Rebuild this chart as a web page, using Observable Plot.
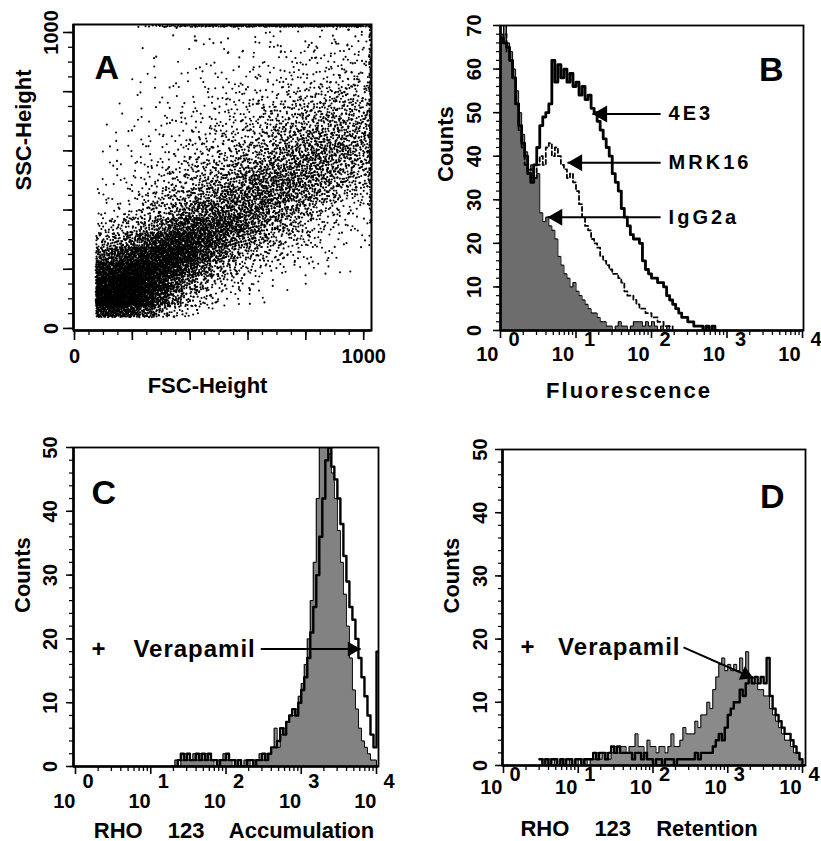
<!DOCTYPE html>
<html>
<head>
<meta charset="utf-8">
<script src="https://cdn.jsdelivr.net/npm/d3@7"></script>
<script src="https://cdn.jsdelivr.net/npm/@observablehq/plot@0.6"></script>
<style>
  html, body { margin: 0; padding: 0; background: #ffffff; }
  #figure { position: relative; width: 821px; height: 841px; overflow: hidden; background: #fff; }
  #figure > div { position: absolute; }
</style>
</head>
<body>
<div id="figure">
  <div id="panelA" style="left:0px;top:0px;width:410px;height:400px"></div>
  <div id="panelB" style="left:410px;top:0px;width:411px;height:400px"></div>
  <div id="panelC" style="left:0px;top:400px;width:410px;height:441px"></div>
  <div id="panelD" style="left:410px;top:400px;width:411px;height:441px"></div>
</div>
<script>
// ================= DATA =================
// ---- Panel A: FSC / SSC dot plot, event counts per 50-channel cell ----
const fscBinCenters = [75,125,175,225,275,325,375,425,475,525,575,625,675,725,775,825,875,925,975,1025];
const sscBinCenters = [1025,975,925,875,825,775,725,675,625,575,525,475,425,375,325,275,225,175,125,75,25];
const scatterCounts = [
  [0,0,0,0,1,1,1,1,1,1,2,2,2,2,2,2,2,3,3,3],
  [0,0,0,0,1,1,1,1,2,2,2,2,3,3,3,4,4,5,5,5],
  [0,0,0,0,1,1,1,2,2,2,3,3,3,4,5,5,6,7,7,6],
  [0,0,0,1,1,1,2,2,2,3,3,4,4,5,6,7,8,9,9,8],
  [0,0,1,1,1,2,2,2,3,4,4,5,6,7,8,9,11,12,12,10],
  [0,0,1,1,2,3,4,4,5,6,8,9,10,13,16,18,20,22,21,17],
  [0,1,1,1,3,4,4,5,6,8,10,12,14,18,21,25,27,30,29,22],
  [1,1,1,3,3,4,5,6,9,10,13,16,20,25,29,34,36,36,34,26],
  [1,1,3,3,4,5,6,9,12,14,18,22,27,34,39,44,47,44,39,29],
  [1,1,3,4,5,6,9,13,17,21,26,32,39,47,52,55,52,47,39,26],
  [1,3,3,4,6,10,14,20,26,32,39,47,55,60,60,57,49,39,29,20],
  [3,3,4,6,10,16,22,30,39,47,55,62,68,65,57,47,36,26,18,13],
  [3,4,6,10,16,23,34,44,55,65,73,73,65,55,42,31,21,13,9,6],
  [5,7,12,20,30,45,60,72,80,83,75,62,49,36,26,17,10,6,4,4],
  [12,18,26,40,60,88,115,130,120,95,68,50,38,28,19,12,8,5,4,3],
  [35,50,70,100,135,165,170,140,100,65,40,28,19,13,9,6,4,3,1,1],
  [90,120,150,180,200,190,150,100,60,36,23,15,9,6,5,4,3,1,1,0],
  [170,210,230,230,200,140,85,45,26,17,10,7,4,3,1,1,0,0,0,0],
  [250,270,270,240,170,95,48,24,13,7,4,2,1,0,0,0,0,0,0,0],
  [230,260,250,200,110,52,22,10,7,3,1,0,0,0,0,0,0,0,0,0],
  [0,0,0,0,0,0,0,0,0,0,0,0,0,0,0,0,0,0,0,0]
];
// events piled up on the top SSC channel (per FSC bin) and on the top FSC channel (per SSC bin)
const sscSaturatedCounts = [0,0,0,2,5,8,10,12,14,14,15,15,16,16,16,16,16,16,16,10];
const fscSaturatedCounts = [6,8,8,8,9,9,10,10,10,10,8,6,5,3,1,0,0,0,0,0,0];
const saturationChannel = 1022;
const fscThreshold = 73;
const sscFloor = 38;
const scatterTicksMajor = [0,200,400,600,800,1000];
const scatterTicksMinor = d3.range(0, 1001, 50);
const scatterTickLabels = [0, 1000];

// ---- Histogram panels: counts per channel, 0.04 decade channels ----
const binWidthDecades = 0.04;
const decadeTicks = [1, 10, 100, 1000, 10000];
const decadeExponents = ["0", "1", "2", "3", "4"];
const logMinorTicks = [1, 10, 100, 1000].flatMap(d => [2,3,4,5,6,7,8,9].map(m => m * d));

// Panel B (starts at 10^0)
const fluorStartExp = 0;
const igg2aCounts = [68,70,66,64,60,55,50,45,41,37,38,35,36,27,25,26,24,23,21,17,15,13,12,10,11,9,8,7,6,5,4,4,3,2,2,1,1,0,1,2,1,1,0,1,2,2,2,1,2,1,2,1,0,1,0,1,0];
const mrk16Counts = [66,68,64,62,58,52,46,42,38,36,37,35,38,40,38,42,43,40,42,40,38,37,35,36,34,32,29,26,24,23,21,20,19,17,16,15,14,13,13,12,11,9,8,8,7,6,5,5,4,4,3,3,2,2,1,1,1,0];
const e43Counts = [67,66,65,62,58,52,47,43,40,36,34,38,42,47,49,50,52,62,57,61,58,60,57,59,56,57,54,56,53,54,51,50,48,46,44,42,40,36,34,32,28,26,24,22,21,21,20,16,14,13,12,12,11,11,10,8,7,6,5,4,3,3,2,2,1,1,1,0,1,0,1,0];
const countsTicksB = [0,10,20,30,40,50,60,70];
const countsMinorB = d3.range(0, 71, 2);
const arrowsB = [
  {label: "4E3", tail: 132, head: 16.5, counts: 49.7},
  {label: "MRK16", tail: 132, head: 7.7, counts: 38.5},
  {label: "IgG2a", tail: 132, head: 4.2, counts: 26}
];

// Panel C (starts at 10^1.28)
const accumStartExp = 1.28;
const accumControl = [0,1,0,1,2,1,1,2,1, 2,1,2,1,1,0,1,1,2, 1,1,0,1,0,0,1,1,0, 1,1,2,1,2,2,3,6,3, 5,6,7,8,8,9,11,13,16, 20,26,32,42,50,50,50,49,46, 42,37,32,27,22,17,12,9,6, 4,3,2,1,1,0];
const accumVerapamil = [0,0,1,2,1,2,1,1,2, 1,2,1,2,1,1,0,1,1, 2,1,1,0,1,0,0,1,1, 0,1,1,2,1,2,3,3,4, 6,5,7,8,9,8,10,12,14, 17,21,25,30,36,42,48,50,47, 45,42,38,33,29,25,23,20,17, 14,11,8,5,3,18];
// Panel D (starts at 10^0.48)
const retentStartExp = 0.48;
const retentControl = [0,1,0,1,0,1,0,1,1, 0,1,0,1,0,1,1,0,1, 1,2,1,2,2,1,2,3,2, 3,3,2,3,3,5,3,3,2, 4,3,3,2,3,3,2,3,5, 3,3,4,6,5,5,5,7,6, 8,8,10,9,12,14,16,17,15, 16,15,16,15,17,15,18,14,13, 13,12,12,11,11,9,8,7,6, 5,4,4,3,2,2,1,0];
const retentVerapamil = [1,0,1,0,1,1,0,1,0, 1,1,0,1,1,0,1,1,1, 2,1,2,2,1,2,3,2,3, 2,2,2,2,1,2,2,1,2, 1,1,0,1,1,0,1,1,1, 0,1,1,1,1,1,1,2,1, 2,2,2,2,3,4,5,4,6, 8,9,10,10,12,11,13,14,13, 14,13,14,13,17,11,9,8,7, 6,5,5,4,3,2,1,0];
const countsTicksCD = [0,10,20,30,40,50];
const countsMinorCD = d3.range(0, 51, 2);
const verapamilC = [{label: "Verapamil", plusAt: 2.02, tail: 290, tailCounts: 18.4, head: 6150, headCounts: 18.4}];
const verapamilD = [{label: "Verapamil", plusAt: 2.09, tail: 256, tailCounts: 18.7, head: 2210, headCounts: 13.8}];

// ================= HELPERS =================
const FONT_STYLE = "font-family:'Liberation Sans',Arial,Helvetica,sans-serif;font-weight:bold;background:transparent;overflow:visible;color:black;";

function histo(counts, startExp) {
  const pts = counts.map((c, i) => ({x: 10 ** (startExp + i * binWidthDecades), y: c}));
  pts.push({x: 10 ** (startExp + counts.length * binWidthDecades), y: 0});
  return pts;
}

// low-discrepancy (Halton) placement of the counted events; each cell's events
// are spread over a box two cells wide so neighbouring cells blend evenly
function halton(i, b) { let f = 1, r = 0; while (i > 0) { f /= b; r += f * (i % b); i = Math.floor(i / b); } return r; }
let seqIndex = 1;
function spread(n, rx, ry) {
  const out = [];
  for (let k = 0; k < n; k++, seqIndex++) out.push([((halton(seqIndex, 2) + rx) % 1) - 0.5, ((halton(seqIndex, 3) + ry) % 1) - 0.5]);
  return out;
}
const events = [];
scatterCounts.forEach((row, r) => row.forEach((n, c) => {
  const rx = (r * 0.618034 + c * 0.754878) % 1, ry = (r * 0.569840 + c * 0.381966) % 1;
  for (const [u, v] of spread(n, rx, ry)) {
    const fsc = fscBinCenters[c] + u * 100, ssc = sscBinCenters[r] + v * 100;
    if (fsc >= fscThreshold && fsc <= 1026 && ssc >= sscFloor && ssc <= 1026) events.push({fsc, ssc});
  }
}));
sscSaturatedCounts.forEach((n, c) => {
  for (const [u, v] of spread(n, (0.3 + c * 0.618) % 1, 0.4)) {
    const fsc = fscBinCenters[c] + u * 50;
    if (fsc >= fscThreshold && fsc <= 1026) events.push({fsc, ssc: saturationChannel + v * 6});
  }
});
fscSaturatedCounts.forEach((n, r) => {
  for (const [u, v] of spread(n, 0.6, (0.2 + r * 0.618) % 1)) {
    const ssc = sscBinCenters[r] + v * 50;
    if (ssc <= 1026) events.push({fsc: saturationChannel + u * 6, ssc});
  }
});

function tuneText(svg, rules) {
  svg.querySelectorAll("text").forEach(t => {
    const r = rules[t.textContent];
    if (r) for (const [k, v] of Object.entries(r)) t.style[k] = v;
  });
  return svg;
}

function logAxes({xMin, yMajor, yMinor, tenDx, tenDy, expDx, expDy, yLabelDx}) {
  return [
    Plot.frame({stroke: "black", strokeWidth: 1.8}),
    Plot.ruleX([xMin], {stroke: "black", strokeWidth: 2.6}),
    Plot.ruleY([0], {stroke: "black", strokeWidth: 2.6}),
    Plot.axisX({ticks: decadeTicks, tickSize: 8, fill: "none", strokeWidth: 1.6}),
    Plot.axisX({ticks: logMinorTicks, tickSize: 5, fill: "none", strokeWidth: 1.3}),
    Plot.axisY({ticks: yMajor, tickSize: 7, fill: "none", strokeWidth: 1.5}),
    Plot.axisY({ticks: yMinor, tickSize: 4, fill: "none", strokeWidth: 1.2}),
    Plot.text(decadeTicks, {x: d => d, text: () => "10", frameAnchor: "bottom", textAnchor: "end", lineAnchor: "bottom", dx: tenDx, dy: tenDy, fontSize: 20}),
    Plot.text(decadeTicks, {x: d => d, text: (d, i) => decadeExponents[i], frameAnchor: "bottom", textAnchor: "start", lineAnchor: "bottom", dx: expDx, dy: expDy, fontSize: 20}),
    Plot.text(yMajor, {y: d => d, text: d => String(d), frameAnchor: "left", rotate: -90, textAnchor: "middle", lineAnchor: "middle", dx: yLabelDx, fontSize: 20})
  ];
}

// ================= PANEL A =================
const plotA = Plot.plot({
  width: 410, height: 400,
  marginTop: 24, marginRight: 39, marginBottom: 70, marginLeft: 73,
  style: FONT_STYLE,
  x: {domain: [-3.5, 1027]},
  y: {domain: [-7, 1027]},
  marks: [
    Plot.dot(events, {x: "fsc", y: "ssc", r: 1.05, fill: "black", stroke: "none", clip: true}),
    Plot.frame({stroke: "black", strokeWidth: 2}),
    Plot.ruleX([-3.5], {stroke: "black", strokeWidth: 2.6}),
    Plot.ruleY([-7], {stroke: "black", strokeWidth: 2.6}),
    Plot.axisX({ticks: scatterTicksMajor, tickSize: 10, fill: "none", strokeWidth: 1.6}),
    Plot.axisX({ticks: scatterTicksMinor, tickSize: 5, fill: "none", strokeWidth: 1.3}),
    Plot.axisY({ticks: scatterTicksMajor, tickSize: 10, fill: "none", strokeWidth: 1.6}),
    Plot.axisY({ticks: scatterTicksMinor, tickSize: 5, fill: "none", strokeWidth: 1.3}),
    Plot.text(scatterTickLabels, {x: d => d, text: d => String(d), frameAnchor: "bottom", lineAnchor: "bottom", dy: 32, fontSize: 20}),
    Plot.text(scatterTickLabels, {y: d => d, text: d => String(d), frameAnchor: "left", rotate: -90, textAnchor: "middle", lineAnchor: "middle", dx: -22, fontSize: 20}),
    Plot.text(["A"], {frameAnchor: "top-left", textAnchor: "start", lineAnchor: "bottom", dx: 21, dy: 54, fontSize: 34}),
    Plot.text(["SSC-Height"], {frameAnchor: "left", rotate: -90, dx: -50, dy: 13, fontSize: 22}),
    Plot.text(["FSC-Height"], {frameAnchor: "bottom", lineAnchor: "bottom", dx: -15, dy: 62, fontSize: 22})
  ]
});
document.getElementById("panelA").append(plotA);

// ================= PANEL B =================
const plotB = Plot.plot({
  width: 411, height: 400,
  marginTop: 25, marginRight: 18, marginBottom: 70, marginLeft: 90,
  style: FONT_STYLE,
  x: {type: "log", domain: [1, 10 ** 4.013]},
  y: {domain: [0, 70]},
  marks: [
    Plot.areaY(histo(igg2aCounts, fluorStartExp), {x: "x", y: "y", curve: "step-after", fill: "#6d6d6d", clip: true}),
    Plot.lineY(histo(igg2aCounts, fluorStartExp), {x: "x", y: "y", curve: "step-after", stroke: "black", strokeWidth: 1, clip: true}),
    Plot.lineY(histo(mrk16Counts, fluorStartExp), {x: "x", y: "y", curve: "step-after", stroke: "black", strokeWidth: 1.8, strokeDasharray: "4,3", clip: true}),
    Plot.lineY(histo(e43Counts, fluorStartExp), {x: "x", y: "y", curve: "step-after", stroke: "black", strokeWidth: 2.8, clip: true}),
    Plot.link(arrowsB, {x1: "tail", x2: "head", y1: "counts", y2: "counts", stroke: "black", strokeWidth: 2}),
    Plot.dot(arrowsB, {x: "head", y: "counts", symbol: "triangle", r: 6.3, rotate: -90, dx: 9.8, fill: "black", stroke: "none"}),
    Plot.text(arrowsB, {x: "tail", y: "counts", text: "label", textAnchor: "start", lineAnchor: "middle", dx: 8, fontSize: 20}),
    ...logAxes({xMin: 1, yMajor: countsTicksB, yMinor: countsMinorB, tenDx: -2, tenDy: 30, expDx: 8, expDy: 15, yLabelDx: -26}),
    Plot.text(["B"], {frameAnchor: "top-right", textAnchor: "end", lineAnchor: "bottom", dx: -20, dy: 55, fontSize: 34}),
    Plot.text(["Counts"], {frameAnchor: "left", rotate: -90, dx: -55, dy: 4, fontSize: 22}),
    Plot.text(["Fluorescence"], {frameAnchor: "bottom", lineAnchor: "bottom", dx: -23, dy: 67, fontSize: 22})
  ]
});
tuneText(plotB, {
  "4E3": {letterSpacing: "3px"}, "MRK16": {letterSpacing: "3px"}, "IgG2a": {letterSpacing: "3px"},
  "Fluorescence": {letterSpacing: "2px"}
});
document.getElementById("panelB").append(plotB);

// ================= PANEL C =================
const plotC = Plot.plot({
  width: 410, height: 441,
  marginTop: 47, marginRight: 32, marginBottom: 75, marginLeft: 73,
  style: FONT_STYLE,
  x: {type: "log", domain: [10 ** -0.0266, 10 ** 4.0266]},
  y: {domain: [0, 50]},
  marks: [
    Plot.areaY(histo(accumControl, accumStartExp), {x: "x", y: "y", curve: "step-after", fill: "#828282", clip: true}),
    Plot.lineY(histo(accumControl, accumStartExp), {x: "x", y: "y", curve: "step-after", stroke: "black", strokeWidth: 1, clip: true}),
    Plot.lineY(histo(accumVerapamil, accumStartExp), {x: "x", y: "y", curve: "step-after", stroke: "black", strokeWidth: 2.4, clip: true}),
    Plot.link(verapamilC, {x1: "tail", y1: "tailCounts", x2: "head", y2: "headCounts", stroke: "black", strokeWidth: 2}),
    Plot.dot(verapamilC, {x: "head", y: "headCounts", symbol: "triangle", r: 5.5, rotate: 90, dx: -8.5, fill: "black", stroke: "none"}),
    Plot.text(verapamilC, {x: "tail", y: "tailCounts", text: "label", textAnchor: "end", lineAnchor: "middle", dx: -5, fontSize: 24}),
    Plot.text(verapamilC, {x: "plusAt", y: "tailCounts", text: () => "+", textAnchor: "middle", lineAnchor: "middle", fontSize: 24}),
    ...logAxes({xMin: 10 ** -0.0266, yMajor: countsTicksCD, yMinor: countsMinorCD, tenDx: 0, tenDy: 41, expDx: 7, expDy: 21, yLabelDx: -23}),
    Plot.text(["C"], {frameAnchor: "top-left", textAnchor: "start", lineAnchor: "bottom", dx: 18, dy: 56, fontSize: 34}),
    Plot.text(["Counts"], {frameAnchor: "left", rotate: -90, dx: -51, dy: 6, fontSize: 22}),
    Plot.text(["RHO 123 Accumulation"], {frameAnchor: "bottom", lineAnchor: "bottom", dx: 8, dy: 71, fontSize: 22})
  ]
});
tuneText(plotC, {"Verapamil": {letterSpacing: "1px"}, "RHO 123 Accumulation": {wordSpacing: "19px"}});
document.getElementById("panelC").append(plotC);

// ================= PANEL D =================
const plotD = Plot.plot({
  width: 411, height: 441,
  marginTop: 49, marginRight: 16, marginBottom: 76, marginLeft: 92,
  style: FONT_STYLE,
  x: {type: "log", domain: [10 ** -0.0134, 10 ** 4.04]},
  y: {domain: [0, 50]},
  marks: [
    Plot.areaY(histo(retentControl, retentStartExp), {x: "x", y: "y", curve: "step-after", fill: "#8a8a8a", clip: true}),
    Plot.lineY(histo(retentControl, retentStartExp), {x: "x", y: "y", curve: "step-after", stroke: "black", strokeWidth: 1, clip: true}),
    Plot.lineY(histo(retentVerapamil, retentStartExp), {x: "x", y: "y", curve: "step-after", stroke: "black", strokeWidth: 2.4, clip: true}),
    Plot.link(verapamilD, {x1: "tail", y1: "tailCounts", x2: "head", y2: "headCounts", stroke: "black", strokeWidth: 2}),
    Plot.dot(verapamilD, {x: "head", y: "headCounts", symbol: "triangle", r: 5.5, rotate: 113.9, dx: -7.8, dy: -3.5, fill: "black", stroke: "none"}),
    Plot.text(verapamilD, {x: "tail", y: "tailCounts", text: "label", textAnchor: "end", lineAnchor: "middle", dx: -3, fontSize: 24}),
    Plot.text(verapamilD, {x: "plusAt", y: "tailCounts", text: () => "+", textAnchor: "middle", lineAnchor: "middle", fontSize: 24}),
    ...logAxes({xMin: 10 ** -0.0134, yMajor: countsTicksCD, yMinor: countsMinorCD, tenDx: -1, tenDy: 28, expDx: 6, expDy: 15, yLabelDx: -22}),
    Plot.text(["D"], {frameAnchor: "top-right", textAnchor: "end", lineAnchor: "bottom", dx: -21, dy: 58, fontSize: 34}),
    Plot.text(["Counts"], {frameAnchor: "left", rotate: -90, dx: -51, dy: 6, fontSize: 22}),
    Plot.text(["RHO 123 Retention"], {frameAnchor: "bottom", lineAnchor: "bottom", dx: -15, dy: 70, fontSize: 22})
  ]
});
tuneText(plotD, {"Verapamil": {letterSpacing: "1px"}, "RHO 123 Retention": {wordSpacing: "19px"}});
document.getElementById("panelD").append(plotD);
</script>
</body>
</html>
